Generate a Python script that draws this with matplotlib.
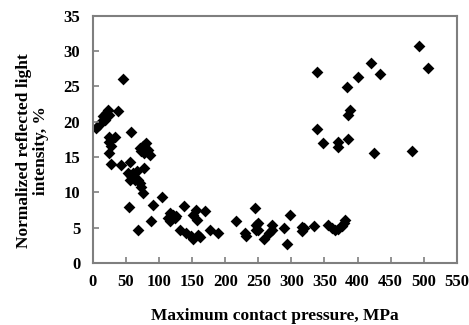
import matplotlib.pyplot as plt

# ---- data ----
pressure = [45, 5, 10, 13, 15, 20, 23, 25, 18, 38, 58,
            25, 33, 25, 28, 25, 28, 43, 56,
            53, 58, 61, 66, 56, 63, 68, 71, 73, 76, 78,
            76, 81, 71, 73, 83, 86, 78,
            55, 68, 104, 91, 88,
            116, 121, 124, 126, 116, 114, 137,
            131, 141, 149, 152, 162, 159,
            156, 152, 157, 169, 177, 189,
            217, 230, 232, 245, 247, 247,
            249, 249, 259, 266, 270, 271,
            289, 293, 298, 316, 316, 319, 334,
            356, 361, 366, 371, 376, 379, 381,
            339, 339, 348, 371, 371, 385,
            384, 388, 385, 400, 420, 434,
            425, 483, 493, 507]
intensity = [26.0, 19.1, 19.6, 20.0, 20.8, 21.2, 21.7, 21.0, 20.3, 21.5, 18.6,
             17.9, 17.9, 17.2, 16.5, 15.6, 14.0, 13.9, 14.3,
             12.7, 12.3, 12.7, 13.0, 11.8, 11.8, 11.8, 11.3, 10.8, 9.9, 13.4,
             16.5, 17.0, 16.3, 15.8, 16.0, 15.3, 15.6,
             7.9, 4.6, 9.4, 8.2, 6.0,
             7.1, 6.8, 6.4, 6.6, 5.9, 6.4, 8.1,
             4.6, 4.2, 3.8, 3.4, 3.7, 4.0,
             7.5, 6.8, 6.1, 7.3, 4.6, 4.2,
             5.9, 4.2, 3.8, 7.8, 5.4, 4.7,
             5.7, 4.7, 3.4, 4.2, 5.4, 4.7,
             5.0, 2.7, 6.8, 5.1, 4.5, 5.0, 5.2,
             5.4, 5.0, 4.7, 4.8, 5.2, 5.7, 6.1,
             27.0, 19.0, 17.0, 17.2, 16.4, 17.5,
             24.9, 21.7, 21.0, 26.4, 28.4, 26.8,
             15.6, 15.9, 30.8, 27.6]

x_ticks = list(range(0, 551, 50))
y_ticks = list(range(0, 36, 5))

plt.rcParams['font.family'] = ['Liberation Serif', 'DejaVu Serif']
plt.rcParams['font.weight'] = 'bold'

fig = plt.figure(figsize=(4.69, 3.25), dpi=100)
ax = fig.add_axes([0.198, 0.191, 0.776, 0.760])

ax.scatter(pressure, intensity, marker='D', s=36, color='black', linewidths=0)

ax.set_xlim(0, 550)
ax.set_ylim(0, 35)
ax.set_xticks(x_ticks)
ax.set_yticks(y_ticks)

for sp in ax.spines.values():
    sp.set_color('#7f7f7f')
    sp.set_linewidth(1.5)

ax.tick_params(axis='x', direction='in', length=4, color='#7f7f7f', width=1.2,
               labelsize=12, pad=8)
ax.tick_params(axis='y', direction='in', length=4, color='#7f7f7f', width=1.2,
               labelsize=12, pad=9)
for lab in ax.get_xticklabels() + ax.get_yticklabels():
    lab.set_fontweight('bold')

ax.set_xlabel("Maximum contact pressure, MPa", fontsize=12.5, fontweight='bold',
              labelpad=13)
ax.set_ylabel("Normalized reflected light\nintensity, %", fontsize=12.5,
              fontweight='bold', linespacing=1.1)
ax.yaxis.set_label_coords(-0.12, 0.455)

fig.savefig("out.png", dpi=100)
